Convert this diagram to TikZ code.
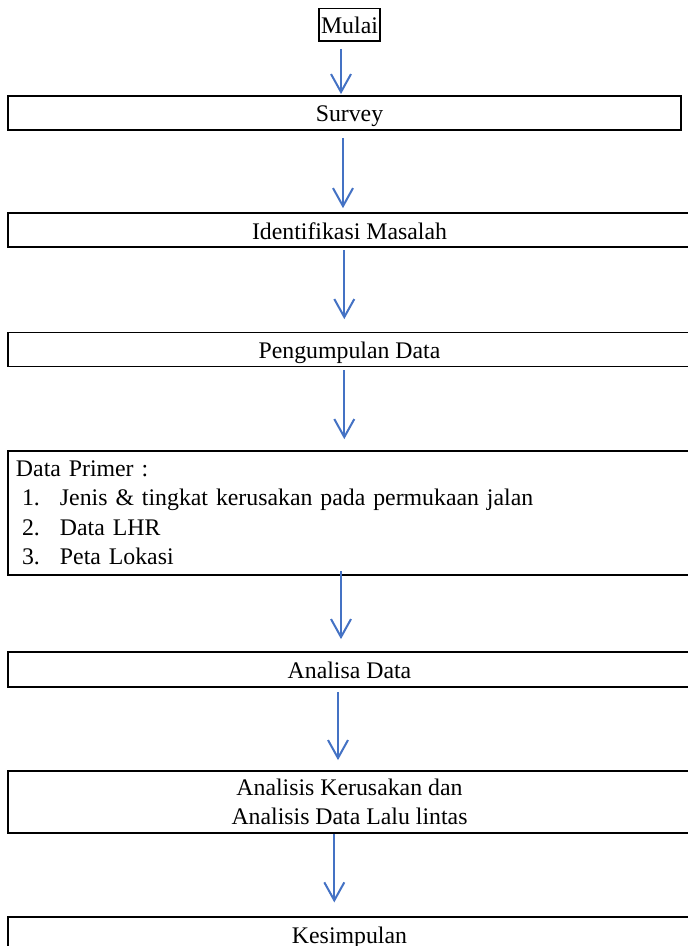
\documentclass[tikz,border=0pt]{standalone}
\usepackage{fontspec}
\setmainfont{Liberation Serif}
\usetikzlibrary{arrows.meta}
\definecolor{arrblue}{HTML}{4472C4}
\begin{document}
\begin{tikzpicture}[x=1pt,y=-1pt,
  box/.style={draw=black,line width=1.8pt,rectangle,inner sep=0pt,
    minimum width=683pt,font=\fontsize{23.8}{29.5}\selectfont},
  oneline/.style={text height=22pt,text depth=4pt},
  arr/.style={draw=arrblue,line width=2pt,-{Straight Barb[length=18pt,width=20pt,line width=2pt]}}]
\useasboundingbox (0,0) rectangle (688,946);
\node[box,oneline,minimum width=61pt,minimum height=32.5pt] (mulai) at (349.5,24.75) {Mulai};
\node[box,oneline,minimum width=673pt,minimum height=34.3pt] (survey) at (344.5,112.85) {\hspace*{10pt}Survey};
\node[box,oneline,minimum height=34.3pt] (ident) at (349.5,230.2) {Identifikasi Masalah};
\node[box,oneline,minimum height=34pt] (peng) at (349.5,349.4) {Pengumpulan Data};
\node[box,minimum height=124pt,text width=667pt,inner xsep=8pt,align=left] (primer) at (349.5,513) {%
Data Primer :\\
\hspace*{6pt}\makebox[38pt][l]{1.}Jenis \& tingkat kerusakan pada permukaan jalan\\
\hspace*{6pt}\makebox[38pt][l]{2.}Data LHR\\
\hspace*{6pt}\makebox[38pt][l]{3.}Peta Lokasi};
\node[box,oneline,minimum height=35pt] (analisa) at (349.5,669.5) {Analisa Data};
\node[box,minimum height=62.6pt,align=center] (kerus) at (349.5,802) {Analisis Kerusakan dan\\Analisis Data Lalu lintas};
\node[box,oneline,minimum height=35pt] (kesimp) at (349.5,934.5) {Kesimpulan};
\draw[arr] ([xshift=-8.5pt,yshift=-7pt]mulai.south) -- ([xshift=-3.5pt,yshift=0.7pt]survey.north);
\draw[arr] ([xshift=-1.5pt,yshift=-7pt]survey.south) -- ([xshift=-6.5pt,yshift=4pt]ident.north);
\draw[arr] ([xshift=-5.2pt,yshift=-1.7pt]ident.south) -- ([xshift=-5.2pt,yshift=12.4pt]peng.north);
\draw[arr] ([xshift=-5.2pt,yshift=-2.9pt]peng.south) -- ([xshift=-5.2pt,yshift=11pt]primer.north);
\draw[arr] ([xshift=-8.5pt,yshift=5pt]primer.south) -- ([xshift=-8.5pt,yshift=12pt]analisa.north);
\draw[arr] ([xshift=-11.5pt,yshift=-4pt]analisa.south) -- ([xshift=-11.5pt,yshift=9.7pt]kerus.north);
\draw[arr] ([xshift=-15.2pt,yshift=0pt]kerus.south) -- ([xshift=-15.2pt,yshift=13.7pt]kesimp.north);
\end{tikzpicture}
\end{document}
